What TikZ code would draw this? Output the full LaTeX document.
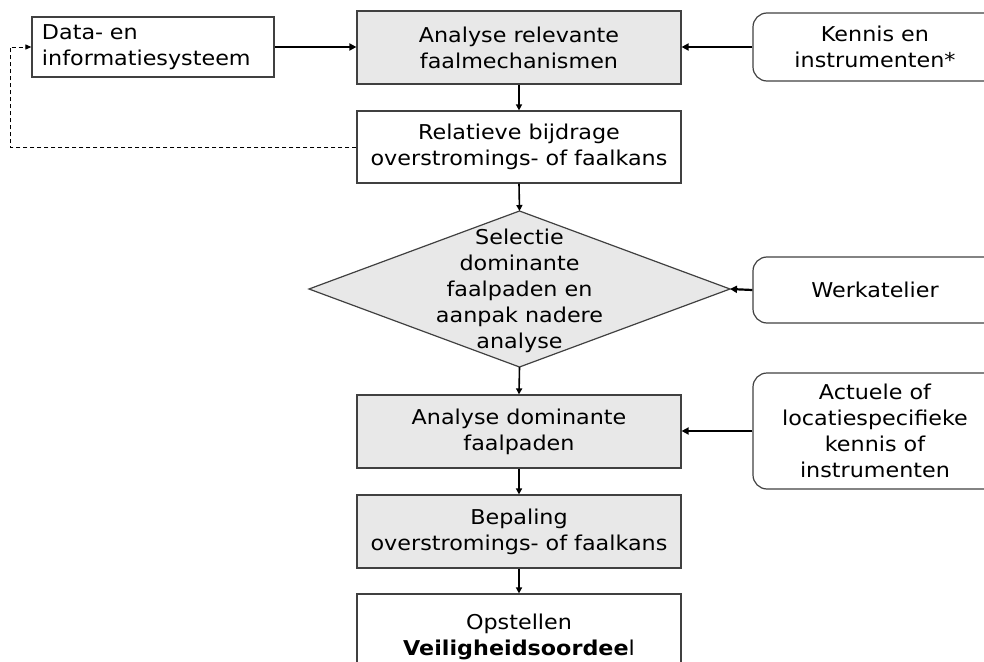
\documentclass[tikz,border=0pt]{standalone}
\usepackage{fontspec}
\setmainfont{DejaVu Sans}[FakeStretch=1.09]
\usetikzlibrary{arrows.meta}
\tikzset{
  txt/.style={font=\fontsize{20.5}{26}\selectfont},
  box/.style={draw=black!75, line width=1.2bp, txt, align=center, inner sep=0pt},
  graybox/.style={box, fill=black!9},
  rbox/.style={box, rounded corners=14bp},
  arr/.style={line width=1.6bp, -{Triangle[length=6bp,width=6bp]}},
  harr/.style={line width=2.2bp, -{Triangle[length=7bp,width=7bp]}},
  darr/.style={line width=0.9bp, dash pattern=on 4bp off 3bp, -{Triangle[length=6bp,width=5bp]}}
}
\begin{document}
\begin{tikzpicture}[x=1bp,y=-1bp]
\useasboundingbox (0,0) rectangle (984,662);
% main column
\node[graybox, minimum width=324bp, minimum height=73bp] (top) at (519,47.5) {Analyse relevante\\faalmechanismen};
\node[box, fill=white, minimum width=324bp, minimum height=72bp] (rel) at (519,147) {Relatieve bijdrage\\overstromings- of faalkans};
% diamond
\coordinate (selT) at (519.5,211);
\coordinate (selR) at (730,289);
\coordinate (selB) at (519.5,367);
\coordinate (selL) at (309,289);
\draw[draw=black!75, line width=1.2bp, fill=black!9] (selT) -- (selR) -- (selB) -- (selL) -- cycle;
\node[txt, align=center, inner sep=0pt] (sel) at (519.5,291) {Selectie\\dominante\\faalpaden en\\aanpak nadere\\analyse};
\node[graybox, minimum width=324bp, minimum height=73bp] (dom) at (519,431.5) {Analyse dominante\\faalpaden};
\node[graybox, minimum width=324bp, minimum height=73bp] (bep) at (519,531.5) {Bepaling\\overstromings- of faalkans};
\node[box, fill=white, minimum width=324bp, minimum height=86bp] (opst) at (519,637) {Opstellen\\\textbf{Veiligheidsoordee}l};
% side boxes
\node[box, minimum width=242bp, minimum height=60bp, text width=222bp, align=left] (data) at (153,47) {Data- en\\informatiesysteem};
\node[rbox, minimum width=244bp, minimum height=68bp] (kennis) at (875,47) {Kennis en\\instrumenten*};
\node[rbox, minimum width=244bp, minimum height=66bp] (werk) at (875,290) {Werkatelier};
\node[rbox, minimum width=244bp, minimum height=116bp] (act) at (875,431) {Actuele of\\locatiespecifieke\\kennis of\\instrumenten};
% connectors
\draw[harr] (data.east) -- (top.west |- data.east);
\draw[harr] (kennis.west) -- (top.east |- kennis.west);
\draw[arr] (top.south) -- (rel.north);
\draw[arr] (rel.south) -- (selT);
\draw[arr] (selB) -- (dom.north);
\draw[arr] (dom.south) -- (bep.north);
\draw[arr] (bep.south) -- (opst.north);
\draw[harr] (werk.west) -- (selR);
\draw[harr] (act.west) -- (dom.east |- act.west);
\coordinate (dl) at (10,147);
\coordinate (ul) at (10,47);
\draw[darr] (rel.west) -- (dl) -- (ul) -- (data.west);
\end{tikzpicture}
\end{document}
